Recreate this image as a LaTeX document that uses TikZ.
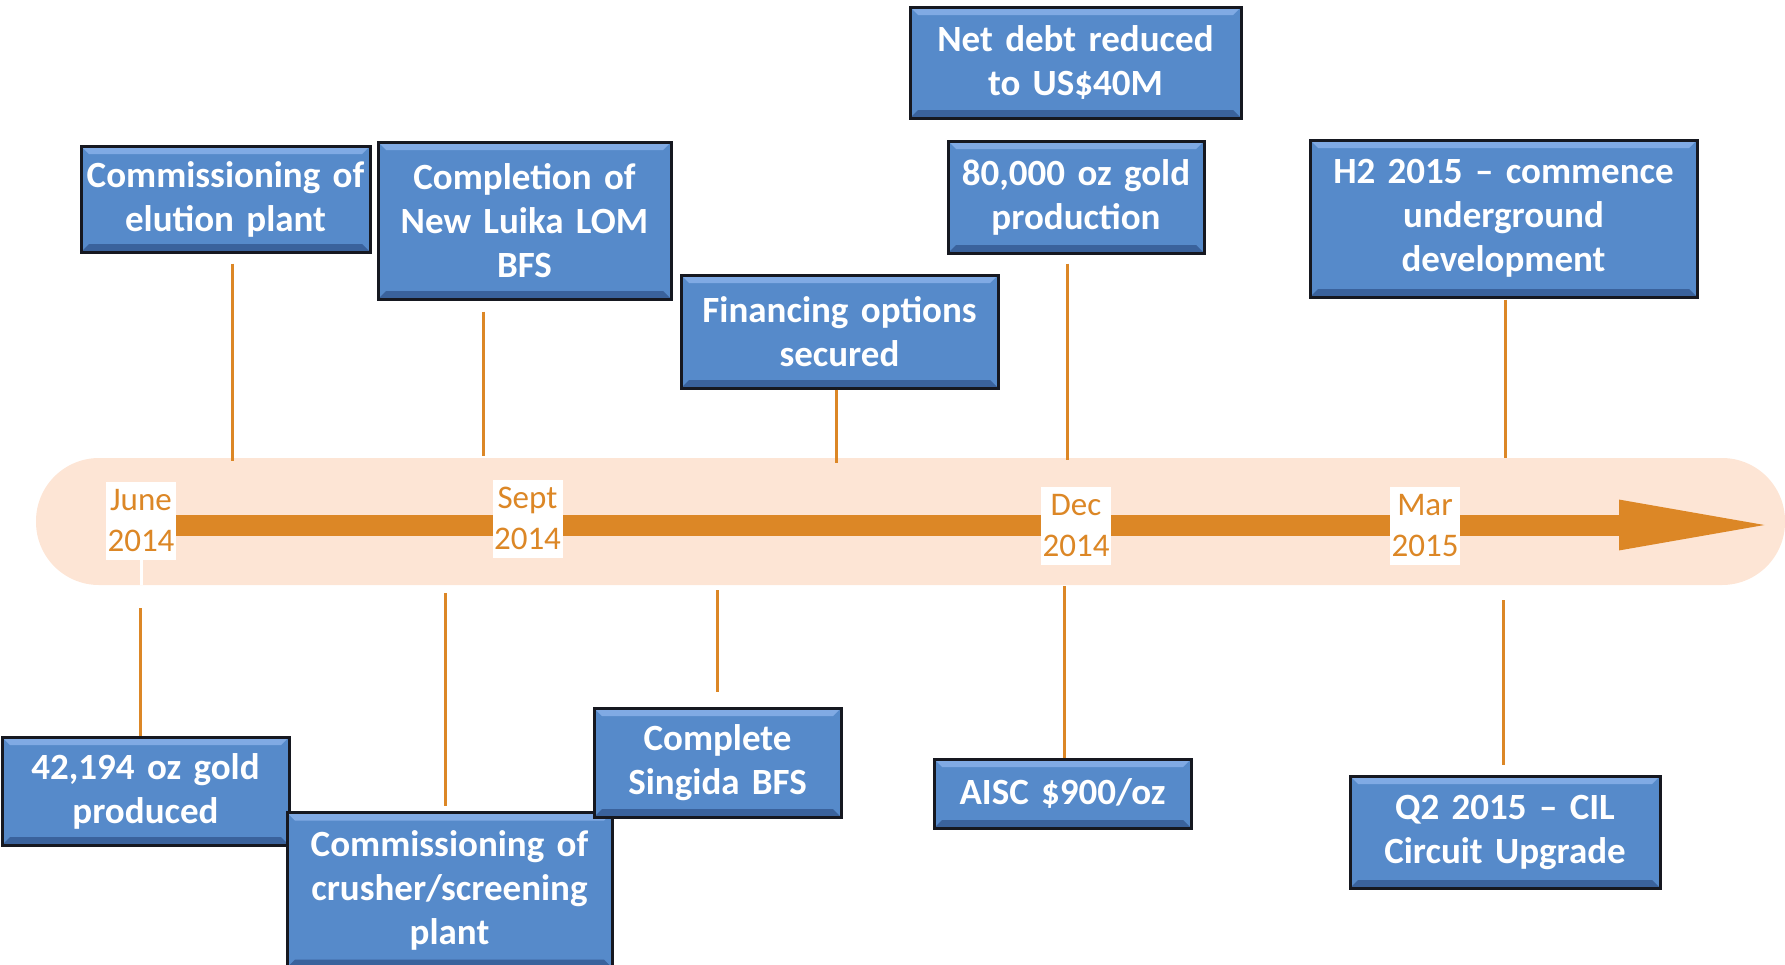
\documentclass[tikz,border=0pt]{standalone}
\usepackage{fontspec}
\setmainfont{Carlito}
\usepackage{tikz}
\usetikzlibrary{arrows.meta}
\definecolor{boxblue}{RGB}{86,138,202}
\definecolor{bevlight}{RGB}{128,170,228}
\definecolor{bevdark}{RGB}{58,98,156}
\definecolor{boxline}{RGB}{22,24,32}
\definecolor{tlorange}{RGB}{220,135,38}
\definecolor{bandfill}{RGB}{253,229,213}
\tikzset{bevel/.style={path picture={
  \fill[bevlight] (path picture bounding box.north west) -- (path picture bounding box.north east)
    -- ([shift={(-8pt,-8pt)}]path picture bounding box.north east) -- ([shift={(8pt,-8pt)}]path picture bounding box.north west) -- cycle;
  \fill[bevdark] (path picture bounding box.south west) -- (path picture bounding box.south east)
    -- ([shift={(-8pt,8pt)}]path picture bounding box.south east) -- ([shift={(8pt,8pt)}]path picture bounding box.south west) -- cycle;
}}}

\begin{document}
\begin{tikzpicture}[x=1pt,y=-1pt,
    event/.style 2 args={draw=boxline,line width=3pt,fill=boxblue,bevel,text=white,
        font=\bfseries\fontsize{37}{44}\selectfont,align=center,inner xsep=0pt,inner ysep=0pt,
        text width=#1,minimum height=#2},
    datelbl/.style={fill=white,text=tlorange,font=\fontsize{33}{41}\selectfont,align=center,
        inner sep=0pt,minimum width=70pt,minimum height=78pt},
    link/.style={draw=tlorange,line width=3pt}]

  \useasboundingbox (0,0) rectangle (1785,964);
  \clip (0,0) rectangle (1785,964);

  % timeline band and arrow
  \fill[bandfill,rounded corners=63pt] (36,458) rectangle (1785,585);
  \coordinate (start) at (176,525);
  \coordinate (tip) at (1782,525);
  \draw[tlorange,line width=21pt,-{Triangle[length=163pt,width=44pt]}] (start) -- (tip);

  % dates
  \node[datelbl] (june) at (141,521) {June\\2014};
  \node[datelbl] (sept) at (527.5,518.5) {Sept\\2014};
  \node[datelbl] (dec) at (1076,526) {Dec\\2014};
  \node[datelbl] (mar) at (1425,526) {Mar\\2015};
  \draw[white,line width=3pt] (june.south) -- ++(0,25);

  % events above
  \node[event={289pt}{106pt}] (elution) at (225.5,199) {Commissioning of\\elution plant};
  \node[event={293pt}{157pt}] (lom) at (524.5,220.5) {Completion of\\New Luika LOM\\BFS};
  \node[event={317pt}{113pt}] (financing) at (839.5,331.5) {Financing options\\secured};
  \node[event={331pt}{111pt}] (netdebt) at (1075.5,62.5) {Net debt reduced\\to US\$40M};
  \node[event={256pt}{112pt}] (gold80) at (1076,197) {80,000 oz gold\\production};
  \node[event={387pt}{157pt}] (h2) at (1503.5,218.5) {H2 2015 -- commence\\underground\\development};

  % events below
  \node[event={287pt}{108pt}] (gold42) at (145.5,791) {42,194 oz gold\\produced};
  \node[event={325pt}{155pt}] (crusher) at (449.5,890) {Commissioning of\\crusher/screening\\plant};
  \node[event={247pt}{109pt}] (singida) at (717.5,762.5) {Complete\\Singida BFS};
  \node[event={257pt}{69pt}] (aisc) at (1062.5,793.5) {AISC \$900/oz};
  \node[event={310pt}{112pt}] (q2) at (1505,832) {Q2 2015 -- CIL\\Circuit Upgrade};

  % connectors
  \foreach \b/\dx/\dy/\len in {elution/6.5/10/197, lom/-41.5/11/144, financing/-3.5/0/73,
                               gold80/-9/9/196, h2/1.5/1/158}
    \draw[link] ([shift={(\dx,\dy)}]\b.south) -- ++(0,\len);
  \foreach \b/\dx/\dy/\len in {gold42/-5.5/0/-128, crusher/-4.5/-5.5/-213, singida/-0.5/-15/-102,
                               aisc/1.5/0/-172, q2/-2/-10/-165}
    \draw[link] ([shift={(\dx,\dy)}]\b.north) -- ++(0,\len);
\end{tikzpicture}
\end{document}
